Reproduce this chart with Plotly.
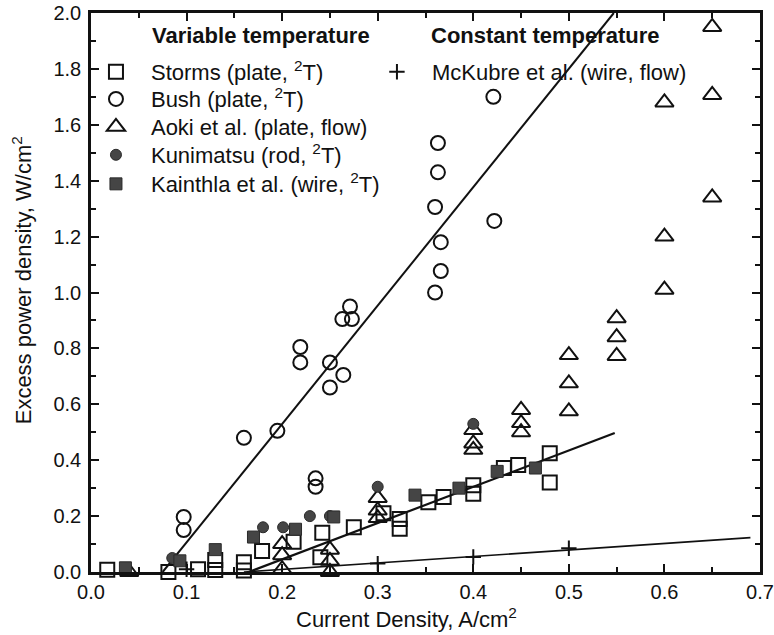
import plotly.graph_objects as go

# ---- data ----
storms_x = [0.017, 0.081, 0.112, 0.13, 0.13, 0.16, 0.16, 0.179, 0.212, 0.24, 0.242, 0.275,
            0.306, 0.323, 0.323, 0.353, 0.369, 0.4, 0.4, 0.432, 0.447, 0.48, 0.48]
storms_y = [0.008, 0.0, 0.01, 0.043, 0.007, 0.035, 0.005, 0.075, 0.108, 0.053, 0.14, 0.16,
            0.21, 0.19, 0.155, 0.25, 0.268, 0.31, 0.28, 0.372, 0.383, 0.425, 0.32]

bush_x = [0.097, 0.097, 0.16, 0.195, 0.219, 0.219, 0.235, 0.235, 0.25, 0.25, 0.264,
          0.263, 0.273, 0.271, 0.36, 0.366, 0.366, 0.36, 0.363, 0.363, 0.422, 0.421]
bush_y = [0.197, 0.15, 0.48, 0.505, 0.805, 0.75, 0.335, 0.305, 0.75, 0.66, 0.705,
          0.905, 0.905, 0.95, 1.0, 1.077, 1.18, 1.306, 1.43, 1.535, 1.256, 1.70]

aoki_x = [0.04, 0.2, 0.2, 0.2, 0.25, 0.25, 0.25, 0.3, 0.3, 0.3, 0.4, 0.4, 0.4,
          0.45, 0.45, 0.45, 0.5, 0.5, 0.5, 0.55, 0.55, 0.55, 0.6, 0.6, 0.6, 0.65, 0.65, 0.65]
aoki_y = [0.0, 0.1, 0.06, 0.01, 0.08, 0.04, 0.0, 0.265, 0.22, 0.193, 0.508, 0.46, 0.437,
          0.58, 0.533, 0.5, 0.776, 0.675, 0.575, 0.908, 0.84, 0.773, 1.68, 1.2, 1.01, 1.95, 1.707, 1.34]

kuni_x = [0.085, 0.18, 0.201, 0.229, 0.25, 0.3, 0.4]
kuni_y = [0.05, 0.16, 0.16, 0.2, 0.2, 0.305, 0.53]

kain_x = [0.036, 0.093, 0.13, 0.17, 0.214, 0.254, 0.339, 0.385, 0.425, 0.465]
kain_y = [0.015, 0.04, 0.08, 0.125, 0.153, 0.197, 0.275, 0.3, 0.36, 0.372]

mck_x = [0.1, 0.3, 0.4, 0.5]
mck_y = [0.01, 0.03, 0.054, 0.085]

# fitted lines
bush_fit_x = [0.075, 0.547]
bush_fit_y = [0.0, 2.0]
storms_fit_x = [0.165, 0.548]
storms_fit_y = [0.0, 0.497]
mck_fit_x = [0.16, 0.69]
mck_fit_y = [0.0, 0.123]

x_ticks = [0.0, 0.1, 0.2, 0.3, 0.4, 0.5, 0.6, 0.7]
y_ticks = [0.0, 0.2, 0.4, 0.6, 0.8, 1.0, 1.2, 1.4, 1.6, 1.8, 2.0]

FONT = "Liberation Sans, Arial, Helvetica, sans-serif"
BLACK = "#111111"
GRAY = "#454545"

fig = go.Figure()

for fx, fy, w in [(bush_fit_x, bush_fit_y, 2), (storms_fit_x, storms_fit_y, 2.2), (mck_fit_x, mck_fit_y, 1.6)]:
    fig.add_trace(go.Scatter(x=fx, y=fy, mode="lines", line=dict(color=BLACK, width=w),
                             showlegend=False, hoverinfo="skip", cliponaxis=False))

fig.add_trace(go.Scatter(x=storms_x, y=storms_y, mode="markers", name="Storms (plate, <sup>2</sup>T)",
                         marker=dict(symbol="square-open", size=14, color=BLACK, line=dict(width=2)),
                         cliponaxis=False, legend="legend"))
fig.add_trace(go.Scatter(x=bush_x, y=bush_y, mode="markers", name="Bush (plate, <sup>2</sup>T)",
                         marker=dict(symbol="circle-open", size=14, color=BLACK, line=dict(width=2)),
                         cliponaxis=False, legend="legend2"))
fig.add_trace(go.Scatter(x=aoki_x, y=aoki_y, mode="markers", name="Aoki et al. (plate, flow)",
                         marker=dict(symbol="triangle-up-open", size=16, color=BLACK, line=dict(width=2)),
                         cliponaxis=False, legend="legend3"))
fig.add_trace(go.Scatter(x=kuni_x, y=kuni_y, mode="markers", name="Kunimatsu (rod, <sup>2</sup>T)",
                         marker=dict(symbol="circle", size=11, color=GRAY, line=dict(width=1, color="#2a2a2a")),
                         cliponaxis=False, legend="legend4"))
fig.add_trace(go.Scatter(x=kain_x, y=kain_y, mode="markers", name="Kainthla et al. (wire, <sup>2</sup>T)",
                         marker=dict(symbol="square", size=12, color=GRAY, line=dict(width=1, color="#2a2a2a")),
                         cliponaxis=False, legend="legend5"))
fig.add_trace(go.Scatter(x=mck_x, y=mck_y, mode="markers", name="McKubre et al. (wire, flow)",
                         marker=dict(symbol="cross-thin-open", size=11, color=BLACK, line=dict(width=2, color=BLACK)),
                         cliponaxis=False, legend="legend6"))

axis_common = dict(
    showline=True, linecolor=BLACK, linewidth=2.5, mirror="allticks",
    ticks="inside", ticklen=8, tickwidth=2, tickcolor=BLACK,
    showgrid=False, zeroline=False, automargin=False, ticklabeloverflow="allow",
    tickfont=dict(family=FONT, size=20, color=BLACK),
    tickformat=".1f",
)

fig.update_xaxes(range=[0, 0.7], tickvals=x_ticks, **axis_common,
                 minor=dict(dtick=0.05, ticks="inside", ticklen=5, tickwidth=1.5, tickcolor=BLACK, showgrid=False))
fig.update_yaxes(range=[0, 2.0], tickvals=y_ticks, ticklabelstandoff=3, **axis_common,
                 minor=dict(dtick=0.1, ticks="inside", ticklen=5, tickwidth=1.5, tickcolor=BLACK, showgrid=False))

LEG_FONT = dict(family=FONT, size=22, color=BLACK)


def leg(x, y):
    return dict(x=x, y=y, xanchor="left", yanchor="middle", font=LEG_FONT,
                bgcolor="rgba(0,0,0,0)", borderwidth=0, itemwidth=60,
                itemclick=False, itemdoubleclick=False)


row_y = [0.8945, 0.846, 0.796, 0.746, 0.694]
lx = -0.015

fig.update_layout(
    width=774, height=635,
    margin=dict(l=91, r=14, t=13, b=63, autoexpand=False),
    paper_bgcolor="white", plot_bgcolor="white",
    font=dict(family=FONT, size=20, color=BLACK),
    legend=leg(lx, row_y[0]),
    legend2=leg(lx, row_y[1]),
    legend3=leg(lx, row_y[2]),
    legend4=leg(lx, row_y[3]),
    legend5=leg(lx, row_y[4]),
    legend6=leg(0.405, row_y[0]),
    annotations=[
        dict(text="<b>Variable temperature</b>", xref="paper", yref="paper", x=0.0882, y=0.960,
             xanchor="left", yanchor="middle", showarrow=False, font=LEG_FONT),
        dict(text="<b>Constant temperature</b>", xref="paper", yref="paper", x=0.505, y=0.960,
             xanchor="left", yanchor="middle", showarrow=False, font=LEG_FONT),
        dict(text="Current Density, A/cm<sup>2</sup>", xref="paper", yref="paper", x=0.472, y=-0.082,
             xanchor="center", yanchor="middle", showarrow=False, font=LEG_FONT),
        dict(text="Excess power density, W/cm<sup>2</sup>", xref="paper", yref="paper", x=-0.103, y=0.522,
             xanchor="center", yanchor="middle", textangle=-90, showarrow=False, font=LEG_FONT),
    ],
)

# let the figure fill the window exactly (no default page margin), no toolbar
fig.write_html("out.html", config={"displayModeBar": False},
               post_script="document.body.style.margin='0';")
